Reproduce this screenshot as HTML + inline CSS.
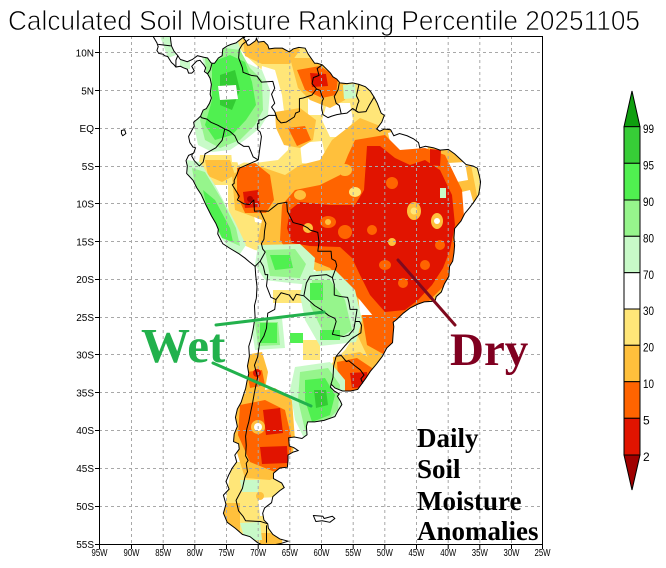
<!DOCTYPE html>
<html><head><meta charset="utf-8"><style>
html,body{margin:0;padding:0;background:#fff;}
svg{display:block;}
.lbl{font-family:"Liberation Sans",sans-serif;font-size:10px;fill:#000;}
.cb{font-family:"Liberation Sans",sans-serif;font-size:12px;fill:#000;}
.geo{fill:none;stroke:#000;stroke-width:1;vector-effect:non-scaling-stroke;stroke-linejoin:round;}
.b polygon{stroke-linejoin:round;}
</style></head><body>
<svg width="666" height="568" viewBox="0 0 666 568" xmlns="http://www.w3.org/2000/svg">
<defs>
<polygon id="land" vector-effect="non-scaling-stroke" style="vector-effect:non-scaling-stroke" points="-86.6,12.3 -85.9,11.3 -85.7,10.8 -85.9,10.3 -85.6,9.9 -84.9,9.8 -84.7,9.6 -84.2,9.5 -83.6,8.7 -83.2,8.4 -82.9,8.1 -82.2,8.2 -81.7,8.0 -81.1,7.8 -80.9,7.3 -80.4,7.3 -80.0,7.6 -80.4,8.2 -79.6,8.9 -79.1,9.0 -78.5,8.4 -78.2,8.0 -78.4,7.5 -77.9,7.2 -77.5,6.6 -77.3,5.8 -77.5,4.5 -77.3,4.0 -77.6,3.3 -78.1,2.6 -78.6,2.4 -79.0,1.6 -79.5,1.2 -80.1,0.8 -80.0,0.3 -80.4,-0.3 -80.9,-1.1 -80.7,-1.9 -80.2,-2.5 -79.8,-2.6 -80.1,-3.3 -80.9,-3.6 -81.3,-4.3 -81.1,-5.0 -81.2,-6.0 -80.2,-6.9 -79.6,-7.9 -78.9,-8.8 -78.2,-10.1 -77.3,-11.6 -76.6,-12.6 -76.2,-13.4 -76.3,-14 -75.5,-15.3 -74.4,-15.9 -73,-16.6 -72,-17.2 -71.3,-17.7 -70.4,-18.3 -70.3,-19.5 -70.1,-21 -70.2,-22.5 -70.5,-23.5 -70.4,-25 -70.7,-26.6 -71.0,-27.8 -71.4,-28.9 -71.3,-30.2 -71.6,-31.5 -71.4,-32.5 -71.7,-33.6 -71.9,-34.5 -72.3,-35.5 -72.6,-36.3 -73.2,-37.2 -73.5,-38.3 -73.2,-39.5 -73.7,-40.5 -73.8,-41.5 -73,-41.8 -72.9,-42.5 -73.6,-43.3 -73.3,-44.2 -74.0,-45 -74.6,-46 -75.0,-46.8 -74.5,-47.8 -75.4,-48.6 -75.0,-49.8 -75.4,-51 -74.8,-52.2 -73.5,-53 -72.4,-53.8 -71.2,-54.1 -70.0,-54.9 -69.0,-55.3 -67.6,-55.2 -66.3,-55 -65.2,-54.7 -66.5,-54.4 -67.6,-53.8 -68.3,-53 -68.4,-52.4 -69.0,-51.9 -69.2,-51.0 -68.9,-50.3 -67.8,-49.6 -67.6,-48.8 -66.5,-48.0 -65.8,-47.6 -66.2,-47.0 -67.5,-46.4 -67.5,-45.7 -66.5,-45.0 -65.3,-44.9 -65.2,-44.0 -65.2,-43.3 -64.4,-42.9 -63.6,-42.7 -64.3,-42.3 -65.0,-42.1 -65.1,-41.0 -64.2,-40.9 -63.0,-41.1 -62.2,-40.6 -62.3,-39.5 -62.1,-38.9 -61,-38.9 -59.5,-38.7 -57.8,-38.2 -57.3,-37.4 -56.7,-36.6 -56.9,-36.2 -57.4,-35.5 -57.1,-35.2 -57.9,-34.8 -58.5,-34.3 -58.4,-33.9 -57.8,-34.4 -56.6,-34.8 -55.3,-34.8 -54.2,-34.6 -53.5,-33.8 -52.9,-33.1 -52.2,-32.2 -51.2,-31.2 -50.3,-30.2 -49.6,-29.1 -48.7,-28.4 -48.6,-27.2 -48.5,-26.3 -48.6,-25.7 -48.0,-25.3 -47.0,-24.5 -45.9,-23.8 -44.7,-23.3 -43.7,-23.0 -42.0,-22.9 -41.8,-22.3 -41.0,-21.7 -40.5,-20.6 -39.8,-19.6 -39.7,-18.3 -39.2,-17.6 -39.0,-16.5 -38.9,-15.5 -39.0,-14.5 -38.9,-13.3 -38.5,-12.9 -37.9,-12.3 -37.3,-11.3 -36.5,-10.5 -35.8,-9.7 -35.1,-8.8 -34.9,-7.8 -34.8,-7.1 -35.0,-6.3 -35.3,-5.3 -36.0,-5.0 -37.1,-4.8 -38.0,-4.1 -38.9,-3.4 -39.9,-2.8 -41.2,-2.9 -42.2,-2.6 -43.5,-2.4 -44.4,-2.6 -44.6,-1.9 -45.4,-1.4 -46.4,-1.0 -47.6,-0.7 -48.5,-1.0 -49.0,-0.2 -50.0,-0.1 -50.7,-0.4 -51.2,-0.1 -50.4,0.8 -50.0,1.7 -50.5,2.0 -51.1,3.3 -51.6,4.1 -52.2,4.9 -53.0,5.5 -54.0,5.8 -55.0,6.0 -55.9,5.9 -57.0,6.0 -57.5,6.5 -58.1,6.8 -58.5,7.3 -59.2,7.9 -59.8,8.4 -60.6,8.6 -61.0,8.6 -62.0,9.8 -62.5,10.6 -63.5,10.7 -64.4,10.5 -65.0,10.1 -66.1,10.6 -67.3,10.6 -68.2,10.5 -68.4,11.0 -69.0,11.5 -69.9,11.4 -70.2,11.9 -70.3,11.6 -71.3,11.0 -71.6,11.0 -71.9,11.6 -72.2,11.9 -71.7,12.4 -72.8,11.7 -73.4,11.3 -74.2,11.1 -74.8,10.9 -75.5,10.5 -75.6,9.6 -76.2,9.3 -76.8,8.6 -77.2,8.6 -77.4,8.7 -77.9,9.3 -78.5,9.4 -79.5,9.6 -80.3,9.1 -81.1,8.8 -81.8,9.0 -82.2,9.1 -82.6,9.6 -83.2,10.2 -83.6,10.9 -83.7,11.5 -83.8,12.3"/>
<clipPath id="landclip"><use href="#land" transform="matrix(6.334 0 0 -7.55 701.0 128.2)"/></clipPath>
<clipPath id="frameclip"><rect x="99.5" y="36.5" width="443" height="508"/></clipPath>
</defs>

<!-- Title -->
<text x="8" y="30" font-family="Liberation Sans, sans-serif" font-size="28" fill="#000" stroke="#fff" stroke-width="0.8" textLength="632" lengthAdjust="spacingAndGlyphs">Calculated Soil Moisture Ranking Percentile 20251105</text>

<g clip-path="url(#frameclip)">
<!-- shading -->
<g clip-path="url(#landclip)" class="b">
<polygon fill="#ffe678" points="230,36 360,36 380,90 420,130 470,150 500,165 500,240 470,275 440,300 410,330 395,360 385,400 330,400 330,365 345,350 358,330 352,305 338,285 322,268 300,262 280,255 255,250 232,240 228,205 228,170 245,162 265,150 285,140 290,120 275,95 262,70 245,55"/>
<polygon fill="#ffe678" points="200,155 235,155 240,170 230,185 210,185 198,170"/>
<polygon fill="#ffe678" points="232,462 290,462 285,500 282,548 222,548 226,500"/>
<polygon fill="#ffe678" points="273,290 303,290 303,303 273,303"/>
<polygon fill="#ffe678" points="303,340 320,340 320,360 303,360"/>
<!-- early whites -->
<polygon fill="#fff" points="262,66 275,70 282,95 285,120 290,132 288,150 278,160 255,163 232,162 230,140 245,125 258,100"/>
<polygon fill="#fff" points="300,143 322,141 325,155 318,165 302,163"/>
<polygon fill="#fff" points="327,103 350,103 353,120 347,137 330,137 322,120"/>
<polygon fill="#fff" points="308,98 323,98 323,115 308,115"/>
<polygon fill="#fff" points="253,209 275,207 282,217 270,225 255,222"/>
<!-- O1 -->
<g fill="#ffc03c">
<polygon points="243,40 290,38 300,50 290,64 262,64 245,56"/>
<polygon points="290,58 340,58 350,75 345,100 330,108 310,100 298,88"/>
<polygon points="275,112 300,108 316,120 313,140 300,148 284,145 276,128"/>
<polygon points="332,140 360,118 385,128 420,135 450,140 470,160 478,200 472,240 462,268 445,290 420,315 405,345 390,368 370,362 356,332 350,305 335,290 315,270 290,262 268,255 258,240 262,220 235,210 232,175 250,163 285,175 300,165 320,160"/>
<polygon points="205,160 230,160 235,175 222,182 208,176"/>
<polygon points="333,357 360,352 380,365 382,392 355,398 335,392"/>
<polygon points="237,395 275,388 292,400 295,440 290,470 270,480 245,478 233,440"/>
<polygon points="245,355 262,352 268,372 264,395 247,398 242,375"/>
<polygon points="223,503 240,503 240,540 223,540"/>
<polygon points="260,533 282,533 282,548 260,548"/>
</g>
<!-- late whites -->
<polygon fill="#fff" points="388,133 405,128 427,135 428,155 410,160 392,150"/>
<polygon fill="#fff" points="449,195 470,190 476,212 460,222 448,213"/>
<polygon fill="#fff" points="448,163 465,162 468,180 451,183"/>
<polygon fill="#fff" points="358,292 378,290 385,305 375,318 360,315"/>
<polygon fill="#fff" points="258,498 277,497 278,515 260,516"/>
<!-- O2 -->
<g fill="#ff6400">
<polygon points="297,70 320,66 338,78 336,95 322,98 305,90"/>
<polygon points="237,168 255,163 270,175 274,200 266,213 245,213 237,195"/>
<polygon points="288,128 305,126 311,140 297,146"/>
<polygon points="355,140 385,135 400,150 425,148 445,155 462,190 465,230 458,260 445,285 425,305 410,322 395,330 378,322 360,300 345,285 330,268 310,260 290,255 280,240 282,205 295,190 320,185 340,175 348,155"/>
<polygon points="362,315 395,315 398,340 385,355 367,345"/>
<polygon points="337,362 357,358 375,370 377,390 357,395 339,390"/>
<polygon points="240,405 265,400 285,410 292,440 290,465 275,472 250,462 238,435"/>
<polygon points="247,372 262,370 265,385 250,388"/>
</g>
<!-- yellow/orange mottling in the orange ring -->
<ellipse cx="345" cy="170" rx="7" ry="6" fill="#ffc03c"/>
<ellipse cx="355" cy="192" rx="6" ry="5" fill="#ffe678"/>
<ellipse cx="300" cy="195" rx="6" ry="5" fill="#ffc03c"/>
<!-- Red -->
<g fill="#e11400">
<polygon points="367,146 380,146 395,158 410,165 425,160 440,170 452,195 455,225 450,250 443,268 432,285 418,300 405,310 385,312 370,295 360,275 352,258 340,247 310,246 292,243 287,228 290,210 300,202 330,205 355,205 364,190"/>
<polygon points="310,73 326,74 328,86 312,87"/>
<polygon points="243,192 258,190 260,207 245,208"/>
<polygon points="350,373 367,372 368,387 352,388"/>
<polygon points="263,410 280,408 283,433 266,435"/>
<polygon points="260,447 287,446 288,463 262,464"/>
<polygon points="430,149 441,150 440,166 430,165"/>
<circle cx="257" cy="373" r="4"/>
</g>
<circle cx="250" cy="199" r="3" fill="#a50000"/>
<!-- spots inside red -->
<ellipse cx="414" cy="211" rx="7" ry="9" fill="#ffc03c"/><circle cx="414" cy="211" r="3.5" fill="#ffe678"/>
<ellipse cx="437" cy="221" rx="6" ry="8" fill="#ffc03c"/><circle cx="437" cy="221" r="3" fill="#fff"/>
<circle cx="345" cy="232" r="7" fill="#ff6400"/>
<circle cx="392" cy="183" r="6" fill="#ff6400"/>
<ellipse cx="328" cy="222" rx="8" ry="6" fill="#ff6400"/><circle cx="328" cy="222" r="3" fill="#ffc03c"/>
<circle cx="372" cy="230" r="5" fill="#ff6400"/>
<circle cx="425" cy="265" r="5" fill="#ff6400"/>
<circle cx="308" cy="228" r="5" fill="#ffc03c"/>
<ellipse cx="385" cy="265" rx="6" ry="5" fill="#ff6400"/>
<circle cx="392" cy="242" r="4" fill="#ffc03c"/>
<circle cx="403" cy="283" r="5" fill="#ff6400"/>
<circle cx="440" cy="245" r="5" fill="#ff6400"/>
<circle cx="258" cy="427" r="7" fill="#ffc03c"/><circle cx="258" cy="427" r="4" fill="#fff"/>
<circle cx="260" cy="496" r="4" fill="#ffc03c"/>
<!-- greens light -->
<g fill="#c8fac8">
<polygon points="200,50 215,40 238,42 245,62 262,70 270,90 268,115 260,128 245,140 230,150 212,152 198,145 194,125 203,100 207,75"/>
<polygon points="187,160 200,162 215,185 235,222 246,245 240,254 228,247 210,222 198,197 188,176"/>
<polygon points="258,245 300,244 315,258 312,285 290,283 265,280 255,265"/>
<polygon points="305,272 335,270 355,290 362,320 356,342 320,346 305,320 300,295"/>
<polygon points="250,318 282,318 285,348 255,350"/>
<polygon points="295,367 330,362 345,380 345,410 330,432 305,440 295,420 290,390"/>
<polygon points="240,480 260,480 258,492 242,492"/>
<polygon points="240,523 260,522 262,540 245,540"/>
<polygon points="343,85 355,84 356,98 344,99"/>
<polygon points="180,59 190,59 190,69 180,69"/>
<polygon points="160,36 172,36 176,55 168,58"/>
<polygon points="440,188 446,188 446,198 440,198"/>
</g>
<g fill="#96f58c">
<polygon points="205,58 225,48 240,50 250,68 262,80 263,110 255,125 240,140 220,148 205,140 200,120 208,95"/>
<polygon points="192,168 205,172 222,200 236,228 240,246 226,240 208,212 195,186"/>
<polygon points="265,250 295,249 306,264 300,278 270,276"/>
<polygon points="312,280 330,280 345,300 352,330 340,338 322,330 310,305"/>
<polygon points="255,322 278,322 280,345 258,346"/>
<polygon points="300,372 328,368 340,385 338,410 322,426 305,430 298,400"/>
</g>
<g fill="#50f050">
<polygon points="212,62 230,55 245,62 252,82 256,105 246,120 232,135 215,140 205,125 212,100"/>
<polygon points="203,190 215,200 230,228 233,242 222,238 207,208"/>
<polygon points="270,255 290,255 293,268 275,270"/>
<polygon points="310,283 323,283 323,300 310,300"/>
<polygon points="320,330 340,330 340,340 320,340"/>
<polygon points="260,323 277,323 277,343 260,343"/>
<polygon points="290,333 303,333 303,343 290,343"/>
<polygon points="305,380 325,378 335,395 330,415 312,422 305,400"/>
</g>
<g fill="#33cc33">
<polygon points="220,75 235,70 240,90 232,110 220,105"/>
<polygon points="314,390 326,390 328,405 316,408"/>
</g>
<polygon fill="#fff" points="218,86 236,85 238,99 220,100"/>
</g>

<!-- grid -->
<g stroke="#a8a8a8" stroke-width="1" stroke-dasharray="3,3" fill="none">
<path d="M131.5 36V545M163.2 36V545M194.8 36V545M226.5 36V545M258.2 36V545M289.8 36V545M321.5 36V545M353.2 36V545M384.8 36V545M416.5 36V545M448.2 36V545M479.8 36V545M511.5 36V545"/>
<path d="M99 52.5H543M99 90.5H543M99 128.5H543M99 166.5H543M99 203.5H543M99 241.5H543M99 279.5H543M99 317.5H543M99 354.5H543M99 392.5H543M99 430.5H543M99 468.5H543M99 506.5H543"/>
</g>

<!-- coastline & borders -->
<g transform="matrix(6.334 0 0 -7.55 701.0 128.2)" fill="none" stroke="#000" stroke-width="1">
<use href="#land"/>
<polygon class="geo" points="-91.5,-0.3 -91.0,-0.2 -90.8,-0.7 -91.3,-1.0 -91.5,-0.7"/>
<polygon class="geo" points="-61.2,-51.3 -59.7,-51.4 -59.5,-51.7 -58.2,-51.4 -57.8,-51.7 -58.6,-52.2 -59.8,-52.0 -60.8,-52.1"/>
<polyline class="geo" points="-77.9,7.2 -77.5,7.7 -77.2,8.6"/>
<polyline class="geo" points="-82.9,8.1 -82.9,9.0 -82.6,9.6"/>
<polyline class="geo" points="-85.7,11.1 -83.7,10.9"/>
<polyline class="geo" points="-71.3,11.8 -72.4,11.1 -72.9,10.4 -73.0,9.3 -72.4,8.0 -72.3,7.4 -71.0,7.0 -70.1,6.9 -69.4,6.1 -67.6,6.2 -67.3,5.3 -67.8,4.5 -67.3,3.3 -67.8,2.8 -67.3,2.2 -66.9,1.2"/>
<polyline class="geo" points="-66.9,1.2 -66.3,0.7 -65.5,0.8 -64.2,1.5 -64.0,2.0 -63.4,2.2 -63.4,3.9 -62.8,4.0 -61.4,4.4 -60.7,5.2"/>
<polyline class="geo" points="-60.7,5.2 -61.4,5.9 -61.2,6.7 -60.3,7.0 -60.6,7.9 -59.8,8.4"/>
<polyline class="geo" points="-60.7,5.2 -60.1,5.0 -59.9,4.4 -59.6,3.9 -59.8,3.6 -59.9,2.7 -59.7,1.8 -58.9,1.4 -58.3,1.6 -57.5,1.8 -56.8,1.9"/>
<polyline class="geo" points="-56.8,1.9 -57.1,3.0 -57.6,3.3 -57.9,4.2 -57.3,5.1 -57.1,6.0"/>
<polyline class="geo" points="-56.8,1.9 -55.9,2.0 -55.0,2.6 -54.1,2.1"/>
<polyline class="geo" points="-54.1,2.1 -54.5,2.3 -54.2,3.2 -54.0,3.6 -54.4,4.3 -54.0,5.8"/>
<polyline class="geo" points="-54.1,2.1 -52.9,2.2 -52.4,3.0 -51.7,4.0 -51.6,4.2"/>
<polyline class="geo" points="-66.9,1.2 -67.1,1.7 -68.2,1.7 -69.4,1.1 -69.8,1.1 -69.8,0.6 -70.0,0.6 -70.0,-0.2 -69.6,-0.5 -69.4,-1.1 -69.9,-4.2"/>
<polyline class="geo" points="-69.9,-4.2 -70.7,-3.8 -71.4,-2.4 -72.2,-2.4 -73.1,-1.9 -73.6,-1.0 -74.4,-0.4 -75.2,-0.1"/>
<polyline class="geo" points="-75.2,-0.1 -76.3,0.4 -77.4,0.8 -78.0,1.2 -78.9,1.4 -79.0,1.6"/>
<polyline class="geo" points="-75.2,-0.1 -75.4,-0.9 -75.6,-1.6 -76.6,-2.6 -78.3,-3.4 -78.6,-4.5 -79.2,-5.0 -80.0,-4.3 -80.4,-3.7 -80.3,-3.4"/>
<polyline class="geo" points="-69.9,-4.2 -72.9,-5.3 -73.2,-6.0 -73.7,-6.9 -73.7,-7.3 -74.0,-7.5 -72.9,-9.0 -73.2,-9.5 -72.2,-10.0 -71.3,-10.1 -70.6,-9.5 -70.5,-11.0 -69.6,-10.95"/>
<polyline class="geo" points="-69.6,-10.95 -68.7,-12.6 -68.9,-13.6 -69.0,-14.7 -69.4,-15.3 -69.2,-16.0 -68.8,-16.4 -69.6,-17.6 -70.4,-18.3"/>
<polyline class="geo" points="-69.6,-10.95 -68.3,-11.0 -66.8,-10.0 -65.4,-9.8 -65.3,-11.0 -64.4,-12.5 -63.0,-12.8 -62.1,-13.2 -61.7,-13.5 -60.5,-13.8 -60.3,-15.1 -60.5,-16.3 -58.4,-16.3 -58.3,-17.3 -57.7,-17.6 -57.5,-18.2"/>
<polyline class="geo" points="-57.5,-18.2 -58.2,-19.8 -59.1,-19.4 -61.7,-19.6 -62.3,-20.5 -62.7,-22.2"/>
<polyline class="geo" points="-62.7,-22.2 -63.9,-22.0 -64.4,-22.8 -65.0,-22.1 -66.3,-21.8 -67.1,-22.7"/>
<polyline class="geo" points="-69.6,-17.6 -69.1,-18.3 -68.8,-19.4 -68.4,-19.4 -68.6,-20.9 -67.9,-22.4 -67.1,-22.7"/>
<polyline class="geo" points="-67.1,-22.7 -67.3,-24.0 -68.4,-24.5 -68.6,-26.5 -69.0,-27.5 -69.7,-28.5 -70.0,-30.3 -70.5,-31.4 -70.0,-33.0 -70.5,-35.0 -70.8,-36.4 -71.1,-37.6 -71.4,-38.9 -71.7,-39.8 -71.9,-40.8 -71.8,-42.0 -71.9,-43.4 -71.5,-44.0 -71.8,-44.4 -71.6,-45.5 -72.0,-46.2 -72.4,-47.7 -73.4,-49.3 -73.0,-50.7 -72.3,-51.4 -71.9,-52.0 -69.5,-52.1 -68.4,-52.4"/>
<polyline class="geo" points="-68.6,-52.6 -68.6,-54.9"/>
<polyline class="geo" points="-62.7,-22.2 -61.0,-23.5 -60.0,-24.0 -58.8,-24.8 -57.8,-25.2 -57.6,-25.6 -58.2,-27.3 -56.4,-27.6 -55.6,-27.4 -54.8,-26.6 -54.6,-25.6"/>
<polyline class="geo" points="-58.2,-19.8 -57.9,-20.7 -57.9,-22.1 -56.9,-22.3 -55.8,-22.4 -55.6,-23.0 -55.4,-24.0 -54.3,-24.0 -54.6,-25.6"/>
<polyline class="geo" points="-54.6,-25.6 -53.9,-25.6 -53.6,-26.1 -53.7,-27.1 -55.2,-27.9 -56.3,-28.9 -57.6,-30.2"/>
<polyline class="geo" points="-57.6,-30.2 -56.8,-30.1 -56.0,-30.9 -55.6,-30.8 -54.6,-31.5 -53.8,-32.0 -53.2,-32.7 -53.7,-33.2 -53.4,-33.8"/>
<polyline class="geo" points="-57.6,-30.2 -58.0,-31.5 -58.1,-33.0 -58.4,-33.9"/>
</g>
</g>

<!-- frame & ticks -->
<rect x="99.5" y="36.5" width="443" height="508" fill="none" stroke="#000" stroke-width="1"/>
<g stroke="#000" stroke-width="1">
<path d="M95 52.5H99M95 90.5H99M95 128.5H99M95 166.5H99M95 203.5H99M95 241.5H99M95 279.5H99M95 317.5H99M95 354.5H99M95 392.5H99M95 430.5H99M95 468.5H99M95 506.5H99M95 544.5H99"/>
<path d="M99.5 545V549M131.5 545V549M163.2 545V549M194.8 545V549M226.5 545V549M258.2 545V549M289.8 545V549M321.5 545V549M353.2 545V549M384.8 545V549M416.5 545V549M448.2 545V549M479.8 545V549M511.5 545V549M542.5 545V549"/>
</g>
<g class="lbl" text-anchor="end">
<text x="94" y="56.5">10N</text><text x="94" y="94.5">5N</text><text x="94" y="132">EQ</text><text x="94" y="170">5S</text><text x="94" y="207.5">10S</text><text x="94" y="245.5">15S</text><text x="94" y="283">20S</text><text x="94" y="321">25S</text><text x="94" y="358.5">30S</text><text x="94" y="396.5">35S</text><text x="94" y="434">40S</text><text x="94" y="472">45S</text><text x="94" y="510">50S</text><text x="94" y="548">55S</text>
</g>
<g class="lbl">
<text x="91.5" y="556" textLength="16" lengthAdjust="spacingAndGlyphs">95W</text>
<text x="123.5" y="556" textLength="16" lengthAdjust="spacingAndGlyphs">90W</text>
<text x="155.2" y="556" textLength="16" lengthAdjust="spacingAndGlyphs">85W</text>
<text x="186.8" y="556" textLength="16" lengthAdjust="spacingAndGlyphs">80W</text>
<text x="218.5" y="556" textLength="16" lengthAdjust="spacingAndGlyphs">75W</text>
<text x="250.2" y="556" textLength="16" lengthAdjust="spacingAndGlyphs">70W</text>
<text x="281.8" y="556" textLength="16" lengthAdjust="spacingAndGlyphs">65W</text>
<text x="313.5" y="556" textLength="16" lengthAdjust="spacingAndGlyphs">60W</text>
<text x="345.2" y="556" textLength="16" lengthAdjust="spacingAndGlyphs">55W</text>
<text x="376.8" y="556" textLength="16" lengthAdjust="spacingAndGlyphs">50W</text>
<text x="408.5" y="556" textLength="16" lengthAdjust="spacingAndGlyphs">45W</text>
<text x="440.2" y="556" textLength="16" lengthAdjust="spacingAndGlyphs">40W</text>
<text x="471.8" y="556" textLength="16" lengthAdjust="spacingAndGlyphs">35W</text>
<text x="503.5" y="556" textLength="16" lengthAdjust="spacingAndGlyphs">30W</text>
<text x="534.5" y="556" textLength="16" lengthAdjust="spacingAndGlyphs">25W</text>
</g>

<!-- annotations -->
<g stroke="#22b14c" stroke-width="3" stroke-linecap="round">
<line x1="216" y1="325" x2="324" y2="312"/>
<line x1="213" y1="363" x2="311" y2="406"/>
</g>
<line x1="398" y1="260" x2="455" y2="325" stroke="#7f0a1e" stroke-width="3" stroke-linecap="round"/>
<text x="141" y="362" font-family="Liberation Serif, serif" font-weight="bold" font-size="49" fill="#22b14c">Wet</text>
<text x="450" y="365" font-family="Liberation Serif, serif" font-weight="bold" font-size="47" fill="#800020">Dry</text>
<g font-family="Liberation Serif, serif" font-weight="bold" font-size="27" fill="#000">
<text x="417" y="447">Daily</text>
<text x="417" y="478">Soil</text>
<text x="417" y="510">Moisture</text>
<text x="417" y="540">Anomalies</text>
</g>

<!-- colorbar -->
<g stroke="#000" stroke-width="1">
<polygon points="624,126.7 640,126.7 632,91" fill="#0f9f0f"/>
<rect x="624" y="126.7" width="16" height="36.6" fill="#37cd37"/>
<rect x="624" y="163.3" width="16" height="36.7" fill="#50f050"/>
<rect x="624" y="200" width="16" height="36.3" fill="#96f58c"/>
<rect x="624" y="236.3" width="16" height="36.4" fill="#c8fac8"/>
<rect x="624" y="272.7" width="16" height="36.3" fill="#ffffff"/>
<rect x="624" y="309" width="16" height="36.3" fill="#ffe678"/>
<rect x="624" y="345.3" width="16" height="36.4" fill="#ffc03c"/>
<rect x="624" y="381.7" width="16" height="36.6" fill="#ff6400"/>
<rect x="624" y="418.3" width="16" height="36.7" fill="#e11400"/>
<polygon points="624,455 640,455 632,490" fill="#a00000"/>
</g>
<g class="cb">
<text x="643" y="133" textLength="11" lengthAdjust="spacingAndGlyphs">99</text>
<text x="643" y="169.5" textLength="11" lengthAdjust="spacingAndGlyphs">95</text>
<text x="643" y="206" textLength="11" lengthAdjust="spacingAndGlyphs">90</text>
<text x="643" y="242.5" textLength="11" lengthAdjust="spacingAndGlyphs">80</text>
<text x="643" y="279" textLength="11" lengthAdjust="spacingAndGlyphs">70</text>
<text x="643" y="315" textLength="11" lengthAdjust="spacingAndGlyphs">30</text>
<text x="643" y="351.5" textLength="11" lengthAdjust="spacingAndGlyphs">20</text>
<text x="643" y="388" textLength="11" lengthAdjust="spacingAndGlyphs">10</text>
<text x="643" y="424.5">5</text>
<text x="643" y="461">2</text>
</g>
</svg>
</body></html>
